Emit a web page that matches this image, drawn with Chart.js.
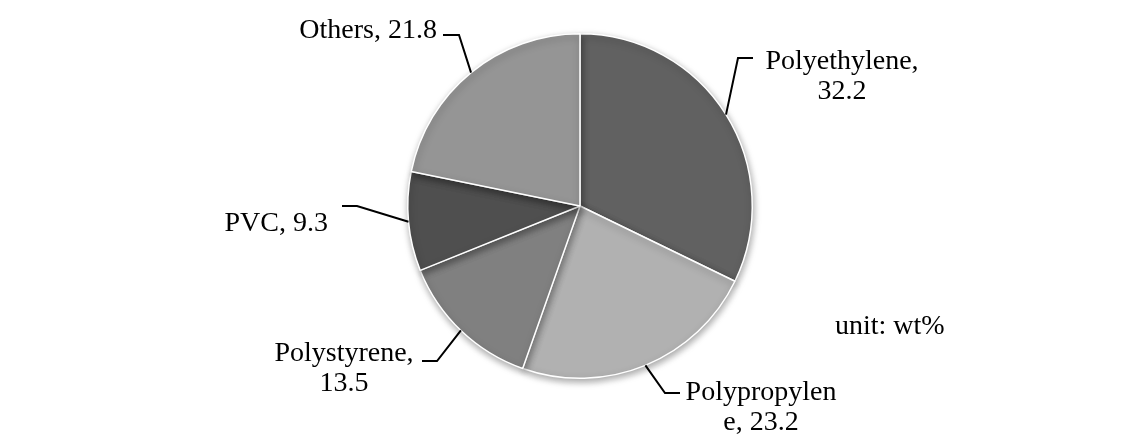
<!DOCTYPE html>
<html>
<head>
<meta charset="utf-8">
<script src="https://cdn.jsdelivr.net/npm/chart.js@4.4.0/dist/chart.umd.min.js"></script>
<style>
  html, body { margin: 0; padding: 0; background: #fff; }
  #wrap { width: 1138px; height: 435px; }
</style>
</head>
<body>
<div id="wrap"><canvas id="myChart" width="1138" height="435"></canvas></div>
<script>
const labels = ['Polyethylene', 'Polypropylene', 'Polystyrene', 'PVC', 'Others'];
const values = [32.2, 23.2, 13.5, 9.3, 21.8];
const colors = ['#616161', '#b1b1b1', '#808080', '#4f4f4f', '#959595'];
// how each label is wrapped in the picture
const labelLines = [
  ['Polyethylene,', '32.2'],
  ['Polypropylen', 'e, 23.2'],
  ['Polystyrene,', '13.5'],
  ['PVC, 9.3'],
  ['Others, 21.8']
];

// leader line elbow/end and text placement per slice
const callouts = [
  { elbow: [738, 58], end: [753, 58], x: 842, y: 69, align: 'center' },
  { elbow: [665, 393], end: [680, 393], x: 761, y: 400, align: 'center' },
  { elbow: [437, 361], end: [422, 361], x: 344, y: 361, align: 'center' },
  { elbow: [357, 206], end: [342, 206], x: 328, y: 231, align: 'right' },
  { elbow: [459, 35], end: [443, 35], x: 437, y: 38, align: 'right' }
];

const shadowPlugin = {
  id: 'shadow',
  beforeDatasetsDraw(chart) {
    const ctx = chart.ctx;
    ctx.save();
    ctx.shadowColor = 'rgba(0,0,0,0.35)';
    ctx.shadowBlur = 7;
    ctx.shadowOffsetX = 1;
    ctx.shadowOffsetY = 3;
  },
  afterDatasetsDraw(chart) {
    chart.ctx.restore();
  }
};

const calloutPlugin = {
  id: 'callouts',
  afterDraw(chart) {
    const ctx = chart.ctx;
    const arcs = chart.getDatasetMeta(0).data;
    ctx.save();
    ctx.strokeStyle = '#000';
    ctx.lineWidth = 2;
    ctx.fillStyle = '#000';
    ctx.font = '28px "Liberation Serif", "Times New Roman", serif';
    ctx.textBaseline = 'alphabetic';
    arcs.forEach((arc, i) => {
      const c = callouts[i];
      const mid = (arc.startAngle + arc.endAngle) / 2;
      const sx = arc.x + Math.cos(mid) * arc.outerRadius;
      const sy = arc.y + Math.sin(mid) * arc.outerRadius;
      ctx.beginPath();
      ctx.moveTo(sx, sy);
      ctx.lineTo(c.elbow[0], c.elbow[1]);
      ctx.lineTo(c.end[0], c.end[1]);
      ctx.stroke();
      ctx.textAlign = c.align;
      labelLines[i].forEach((t, k) => {
        ctx.fillText(t, c.x, c.y + k * 30);
      });
    });
    ctx.textAlign = 'left';
    ctx.fillText('unit: wt%', 835, 334);
    ctx.restore();
  }
};

const ctx = document.getElementById('myChart').getContext('2d');
new Chart(ctx, {
  type: 'pie',
  data: {
    labels: labels,
    datasets: [{
      data: values,
      backgroundColor: colors,
      borderColor: '#ffffff',
      borderWidth: 1.5
    }]
  },
  options: {
    responsive: false,
    animation: false,
    layout: { padding: { left: 407, right: 385, top: 33, bottom: 56 } },
    plugins: {
      legend: { display: false },
      tooltip: { enabled: false }
    }
  },
  plugins: [shadowPlugin, calloutPlugin]
});
</script>
</body>
</html>
